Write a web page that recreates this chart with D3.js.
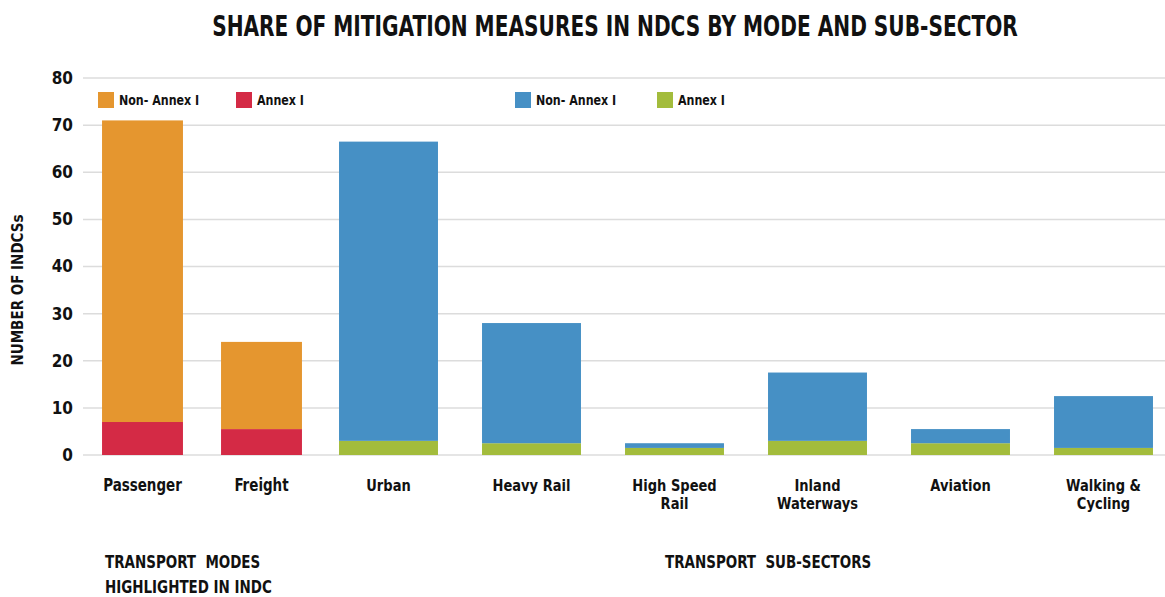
<!DOCTYPE html>
<html><head><meta charset="utf-8">
<script src="https://cdn.jsdelivr.net/npm/d3@7"></script>
<style>
body{margin:0;background:#fff;}
text{font-family:"Liberation Sans Narrow","DejaVu Sans Condensed","Roboto",sans-serif;font-weight:bold;fill:#111;}
</style></head>
<body><svg id="c" width="1165" height="597"></svg>
<script>
const modeCategories = ["Passenger", "Freight"];
const modeNonAnnex = [64, 18.5];
const modeAnnex = [7, 5.5];
const subCategories = ["Urban", "Heavy Rail", "High Speed Rail", "Inland Waterways", "Aviation", "Walking & Cycling"];
const subLabels = [["Urban"], ["Heavy Rail"], ["High Speed", "Rail"], ["Inland", "Waterways"], ["Aviation"], ["Walking &", "Cycling"]];
const subNonAnnex = [63.5, 25.5, 1, 14.5, 3, 11];
const subAnnex = [3, 2.5, 1.5, 3, 2.5, 1.5];
const yTicks = [0, 10, 20, 30, 40, 50, 60, 70, 80];

const svg = d3.select("#c");
const y = d3.scaleLinear().domain([0, 80]).range([455, 78]);
const xMode = d3.scaleBand().domain(modeCategories).range([83, 321]).paddingInner(0.32).paddingOuter(0.16);
const xSub = d3.scaleBand().domain(subCategories).range([317, 317 + 6 * 143]).paddingInner(0.308).paddingOuter(0.154);

const colors = {modeNon: "#E5962F", modeAnn: "#D42A45", subNon: "#4690C5", subAnn: "#A3BC3C"};
const SX = 0.88;

// place a horizontally condensed text
function label(x, y0, str, size, anchor, sx) {
  const g = svg.append("g").attr("transform", `translate(${x},${y0}) scale(${sx || SX},1)`);
  return g.append("text").attr("x", 0).attr("y", 0).attr("font-size", size)
    .attr("text-anchor", anchor || "start").attr("xml:space", "preserve").text(str);
}

// gridlines
svg.append("g").selectAll("line").data(yTicks).join("line")
  .attr("x1", 83).attr("x2", 1165)
  .attr("y1", d => y(d)).attr("y2", d => y(d))
  .attr("stroke", "#dcdcdc").attr("stroke-width", 1.5);

// y axis labels
const yAxis = d3.axisLeft(y).tickValues(yTicks).tickSize(0).tickPadding(0);
const yg = svg.append("g").attr("transform", "translate(73,0)").call(yAxis);
yg.select(".domain").remove();
yg.selectAll("text").style("font-family", '"Liberation Sans Narrow","DejaVu Sans Condensed",sans-serif')
  .style("font-weight", "bold").attr("font-size", 17).attr("fill", "#111");

svg.append("text").attr("transform", "translate(23,290) rotate(-90)")
  .attr("text-anchor", "middle").attr("font-size", 15).text("NUMBER OF INDCSs");

// bars
function drawStack(scale, cats, non, ann, cNon, cAnn) {
  const g = svg.append("g");
  cats.forEach((c, i) => {
    g.append("rect").attr("x", scale(c)).attr("width", scale.bandwidth())
      .attr("y", y(ann[i])).attr("height", y(0) - y(ann[i])).attr("fill", cAnn);
    g.append("rect").attr("x", scale(c)).attr("width", scale.bandwidth())
      .attr("y", y(ann[i] + non[i])).attr("height", y(ann[i]) - y(ann[i] + non[i])).attr("fill", cNon);
  });
}
drawStack(xMode, modeCategories, modeNonAnnex, modeAnnex, colors.modeNon, colors.modeAnn);
drawStack(xSub, subCategories, subNonAnnex, subAnnex, colors.subNon, colors.subAnn);

// x labels
modeCategories.forEach(c => {
  label(xMode(c) + xMode.bandwidth() / 2, 491, c, 17, "middle");
});
subCategories.forEach((c, i) => {
  subLabels[i].forEach((l, j) => {
    label(xSub(c) + xSub.bandwidth() / 2, 491 + j * 18, l, 16.5, "middle");
  });
});

// legends
const legends = [
  {x: 98, color: colors.modeNon, label: "Non- Annex I"},
  {x: 236, color: colors.modeAnn, label: "Annex I"},
  {x: 515, color: colors.subNon, label: "Non- Annex I"},
  {x: 657, color: colors.subAnn, label: "Annex I"}
];
legends.forEach(l => {
  svg.append("rect").attr("x", l.x).attr("y", 92).attr("width", 16).attr("height", 16).attr("fill", l.color);
  label(l.x + 21, 105, l.label, 14, "start");
});

// title
const title = label(615, 36, "SHARE OF MITIGATION MEASURES IN NDCS BY MODE AND SUB-SECTOR", 28, "middle", 1);
const tw = title.node().getComputedTextLength();
title.node().parentNode.setAttribute("transform", `translate(615,36) scale(${806 / tw},1)`);

// group labels
label(105, 568, "TRANSPORT  MODES", 17, "start");
label(105, 593, "HIGHLIGHTED IN INDC", 17, "start");
label(665, 568, "TRANSPORT  SUB-SECTORS", 17, "start");
</script></body></html>
